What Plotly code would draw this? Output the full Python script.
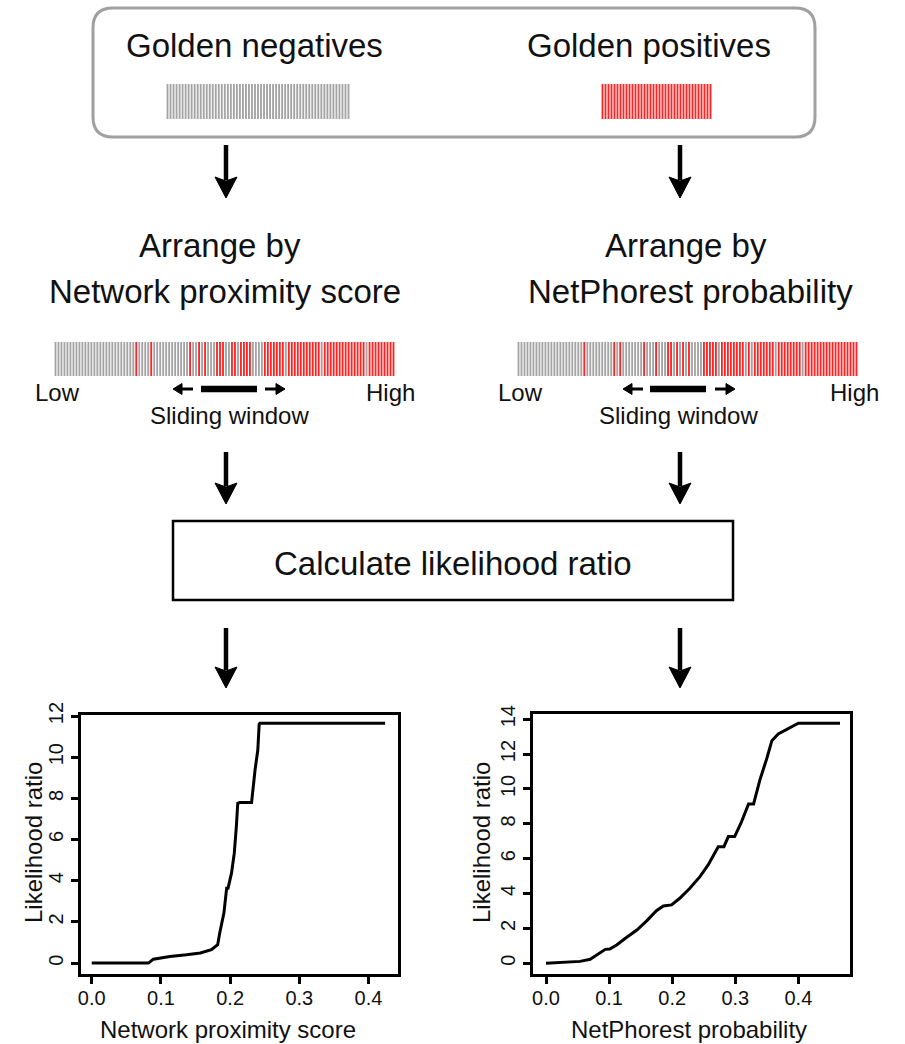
import plotly.graph_objects as go

W, H = 905, 1044
FONT = "Liberation Sans, Arial, Helvetica, sans-serif"

# ---------------- data ----------------
golden_negatives_count = 61
golden_positives_count = 37

# 0 = golden negative (grey), 1 = golden positive (red); ordered low -> high score
network_order = ("000000000000000000000000000" "1" "0000" "1" "000000000000" "1" "00" "1"
                 "0" "1" "000" "111" "00" "11" "0" "1111" "0000" "1111111" "0"
                 "11111111111" "0" "11111111111111" "0" "111111111")
netphorest_order = ("0000000000000000000000" "1" "000000000" "1" "0" "1" "0000000" "1" "000"
                    "1" "000" "11" "0" "1" "0" "1" "0" "1" "0000" "11111" "0" "11111111"
                    "0" "1" "0" "1111111" "0" "11111111" "0" "111111111111111111")

network_score = [0.0, 0.041, 0.082, 0.089, 0.099, 0.113, 0.137, 0.157, 0.173, 0.178,
                 0.182, 0.185, 0.188, 0.191, 0.195, 0.197, 0.202, 0.206, 0.209, 0.211,
                 0.214, 0.231, 0.236, 0.240, 0.242, 0.243, 0.424]
network_lr = [0.0, 0.0, 0.0, 0.19, 0.24, 0.32, 0.40, 0.49, 0.65, 0.81,
              0.89, 1.46, 1.90, 2.43, 3.64, 3.64, 4.37, 5.34, 6.63, 7.76,
              7.80, 7.80, 9.38, 10.35, 11.61, 11.65, 11.65]

netphorest_prob = [0.0, 0.027, 0.054, 0.070, 0.083, 0.094, 0.101, 0.112, 0.128, 0.144,
                   0.160, 0.175, 0.186, 0.199, 0.212, 0.228, 0.244, 0.257, 0.273, 0.282,
                   0.289, 0.299, 0.310, 0.321, 0.329, 0.339, 0.350, 0.358, 0.368, 0.382,
                   0.400, 0.466]
netphorest_lr = [0.0, 0.06, 0.11, 0.23, 0.54, 0.80, 0.82, 1.05, 1.49, 1.91,
                 2.45, 3.02, 3.29, 3.35, 3.73, 4.30, 4.97, 5.64, 6.69, 6.69,
                 7.27, 7.27, 8.13, 9.14, 9.14, 10.52, 11.76, 12.77, 13.16, 13.43,
                 13.77, 13.77]

x_ticks = [0.0, 0.1, 0.2, 0.3, 0.4]
y_ticks_left = [0, 2, 4, 6, 8, 10, 12]
y_ticks_right = [0, 2, 4, 6, 8, 10, 12, 14]

# ---------------- styling ----------------
GREY = "#a4a4a4"
RED = "#ff2424"


def px_x(p):
    return p / W


def px_y(p):
    return 1 - p / H


fig = go.Figure()


def strip(codes, x0, x1, y0, y1):
    n = len(codes)
    step = (x1 - x0) / n
    for code, col in (("0", GREY), ("1", RED)):
        xs, ys = [], []
        for i, c in enumerate(codes):
            if c == code:
                xc = x0 + step * (i + 0.5)
                xs += [xc, xc, None]
                ys += [y0, y1, None]
        if xs:
            fig.add_trace(go.Scatter(
                x=xs, y=ys, mode="lines", line=dict(color=col, width=step * 0.62),
                xaxis="x3", yaxis="y3", hoverinfo="skip", showlegend=False))


strip("0" * golden_negatives_count, 166, 350, 84, 119)
strip("1" * golden_positives_count, 601, 712, 84, 119)
strip(network_order, 54, 395, 342, 376)
strip(netphorest_order, 517, 858, 342, 376)

# likelihood ratio curves
fig.add_trace(go.Scatter(x=network_score, y=network_lr, mode="lines",
                         line=dict(color="black", width=3), xaxis="x", yaxis="y",
                         showlegend=False, hoverinfo="skip"))
fig.add_trace(go.Scatter(x=netphorest_prob, y=netphorest_lr, mode="lines",
                         line=dict(color="black", width=3), xaxis="x2", yaxis="y2",
                         showlegend=False, hoverinfo="skip"))

shapes = []
# rounded box
r = 20
bx0, bx1, by0, by1 = 93, 815, 8, 137
shapes.append(dict(
    type="path", xref="x3", yref="y3",
    path=(f"M {bx0+r},{by0} L {bx1-r},{by0} Q {bx1},{by0} {bx1},{by0+r} "
          f"L {bx1},{by1-r} Q {bx1},{by1} {bx1-r},{by1} L {bx0+r},{by1} "
          f"Q {bx0},{by1} {bx0},{by1-r} L {bx0},{by0+r} Q {bx0},{by0} {bx0+r},{by0} Z"),
    line=dict(color="#a0a0a0", width=3)))
# calculate box
shapes.append(dict(type="rect", xref="x3", yref="y3", x0=173, x1=733, y0=521, y1=600,
                   line=dict(color="black", width=2.5)))


def down_arrow(x, y0, y1, hl=21, hw=22, lw=4.5):
    shapes.append(dict(type="line", xref="x3", yref="y3", x0=x, x1=x, y0=y0, y1=y1 - hl + 3,
                       line=dict(color="black", width=lw)))
    shapes.append(dict(type="path", xref="x3", yref="y3",
                       path=f"M {x-hw/2},{y1-hl} L {x},{y1} L {x+hw/2},{y1-hl} L {x},{y1-hl+4} Z",
                       fillcolor="black", line=dict(color="black", width=1)))


def h_arrow(x_tail, x_tip, y, hl=9, hw=11, lw=3):
    s = 1 if x_tip > x_tail else -1
    shapes.append(dict(type="line", xref="x3", yref="y3", x0=x_tail, x1=x_tip - s * (hl - 2),
                       y0=y, y1=y, line=dict(color="black", width=lw)))
    shapes.append(dict(type="path", xref="x3", yref="y3",
                       path=f"M {x_tip - s*hl},{y-hw/2} L {x_tip},{y} L {x_tip - s*hl},{y+hw/2} Z",
                       fillcolor="black", line=dict(color="black", width=1)))


for ax in (226, 680):
    down_arrow(ax, 145, 198)
    down_arrow(ax, 452, 504)
    down_arrow(ax, 628, 688)

# sliding windows
for (la, lb, b0, b1, ra, rb) in [(193, 173, 201, 257, 265, 285), (643, 623, 650, 706, 715, 735)]:
    h_arrow(la, lb, 389)
    shapes.append(dict(type="line", xref="x3", yref="y3", x0=b0, x1=b1, y0=389, y1=389,
                       line=dict(color="black", width=6.5)))
    h_arrow(ra, rb, 389)

annotations = []


def text(x, y, s, size, angle=0):
    annotations.append(dict(x=x, y=y, xref="x3", yref="y3", text=s, showarrow=False,
                            xanchor="center", yanchor="middle", textangle=angle,
                            font=dict(family=FONT, size=size, color="#111111")))


text(254, 45, "Golden negatives", 33)
text(649, 45, "Golden positives", 33)
text(220, 245, "Arrange by", 33)
text(225, 291, "Network proximity score", 33)
text(686, 245, "Arrange by", 33)
text(690, 291, "NetPhorest probability", 33)
text(453, 563, "Calculate likelihood ratio", 33)
for (lo, hi, sw) in [(57, 390, 229), (520, 854, 678)]:
    text(lo, 392, "Low", 24)
    text(hi, 392, "High", 24)
    text(sw, 415, "Sliding window", 24)
text(228, 1029, "Network proximity score", 24)
text(689, 1029, "NetPhorest probability", 24)
text(33, 843, "Likelihood ratio", 24, -90)
text(481, 843, "Likelihood ratio", 24, -90)

axis_common = dict(showline=True, mirror=True, linewidth=2.5, linecolor="black",
                   ticks="outside", ticklen=7, tickwidth=2.5, tickcolor="black",
                   showgrid=False, zeroline=False, fixedrange=True, automargin=False,
                   tickfont=dict(family=FONT, size=20, color="#111111"))

fig.update_layout(
    width=W, height=H,
    margin=dict(l=0, r=0, t=0, b=0, pad=0, autoexpand=False),
    paper_bgcolor="white", plot_bgcolor="rgba(0,0,0,0)",
    showlegend=False,
    xaxis=dict(domain=[px_x(81), px_x(398)], range=[-0.0155, 0.4426], anchor="y",
               tickvals=x_ticks, tickformat=".1f", ticklabelstandoff=-3, **axis_common),
    yaxis=dict(domain=[px_y(974), px_y(715)], range=[-0.53, 12.05], anchor="x",
               tickvals=y_ticks_left, tickangle=-90, ticklabelstandoff=0, **axis_common),
    xaxis2=dict(domain=[px_x(533), px_x(850)], range=[-0.0206, 0.4818], anchor="y2",
                tickvals=x_ticks, tickformat=".1f", ticklabelstandoff=-3, **axis_common),
    yaxis2=dict(domain=[px_y(974), px_y(714)], range=[-0.614, 14.30], anchor="x2",
                tickvals=y_ticks_right, tickangle=-90, ticklabelstandoff=0, **axis_common),
    xaxis3=dict(domain=[0, 1], range=[0, W], anchor="y3", visible=False, fixedrange=True,
                automargin=False),
    yaxis3=dict(domain=[0, 1], range=[H, 0], anchor="x3", visible=False, fixedrange=True,
                automargin=False),
    shapes=shapes,
    annotations=annotations,
)

fig.write_html("out.html", config={"displayModeBar": False},
               post_script="document.body.style.margin='0';document.body.style.overflow='hidden';")
